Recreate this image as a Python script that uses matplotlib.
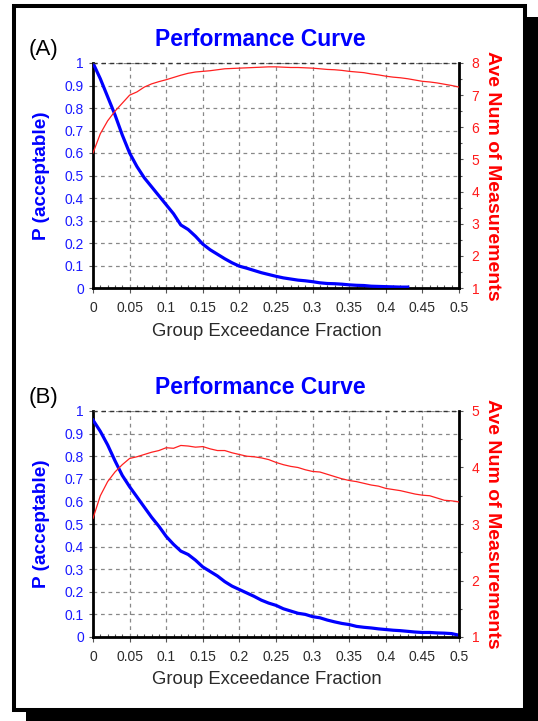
import numpy as np
import matplotlib
matplotlib.use("Agg")
import matplotlib.pyplot as plt
from matplotlib.patches import Rectangle
from matplotlib.ticker import MultipleLocator, FixedLocator

plt.rcParams['font.family'] = ['Liberation Sans', 'DejaVu Sans']

# ---------------- data ----------------
x_frac = [round(0.01 * i, 2) for i in range(51)]

p_accept_A = [1.0, 0.93, 0.85, 0.77, 0.68, 0.60, 0.54, 0.49, 0.45, 0.41,
              0.37, 0.33, 0.28, 0.26, 0.23, 0.195, 0.17, 0.15, 0.13, 0.112,
              0.097, 0.088, 0.078, 0.068, 0.06, 0.052, 0.045, 0.04, 0.035, 0.032,
              0.028, 0.023, 0.02, 0.019, 0.017, 0.014, 0.012, 0.011, 0.008, 0.007,
              0.006, 0.005, 0.004, 0.004]
ave_meas_A = [5.2, 5.8, 6.2, 6.5, 6.75, 7.0, 7.1, 7.25, 7.35, 7.42,
              7.48, 7.55, 7.62, 7.68, 7.72, 7.74, 7.76, 7.79, 7.82, 7.83,
              7.84, 7.85, 7.86, 7.87, 7.88, 7.88, 7.87, 7.86, 7.86, 7.85,
              7.84, 7.82, 7.80, 7.79, 7.77, 7.74, 7.72, 7.70, 7.66, 7.63,
              7.59, 7.56, 7.54, 7.51, 7.47, 7.43, 7.41, 7.38, 7.34, 7.30, 7.25]

p_accept_B = [0.96, 0.91, 0.85, 0.78, 0.715, 0.665, 0.62, 0.575, 0.53, 0.49,
              0.445, 0.41, 0.38, 0.365, 0.34, 0.31, 0.29, 0.27, 0.245, 0.225,
              0.21, 0.195, 0.18, 0.163, 0.15, 0.14, 0.125, 0.115, 0.105, 0.10,
              0.09, 0.085, 0.075, 0.067, 0.06, 0.055, 0.047, 0.043, 0.04, 0.036,
              0.033, 0.03, 0.028, 0.025, 0.022, 0.02, 0.02, 0.018, 0.017, 0.015, 0.008]
ave_meas_B = [3.1, 3.5, 3.75, 3.92, 4.05, 4.16, 4.19, 4.23, 4.27, 4.30,
              4.35, 4.34, 4.39, 4.38, 4.36, 4.37, 4.33, 4.30, 4.30, 4.26,
              4.23, 4.20, 4.19, 4.17, 4.14, 4.09, 4.05, 4.02, 4.00, 3.96,
              3.93, 3.92, 3.88, 3.84, 3.80, 3.77, 3.75, 3.72, 3.69, 3.67,
              3.63, 3.61, 3.59, 3.56, 3.53, 3.51, 3.50, 3.46, 3.42, 3.41, 3.39]

x_ticks = [0, 0.05, 0.1, 0.15, 0.2, 0.25, 0.3, 0.35, 0.4, 0.45, 0.5]
x_tick_labels = ['0', '0.05', '0.1', '0.15', '0.2', '0.25', '0.3', '0.35', '0.4', '0.45', '0.5']
p_ticks = [round(0.1 * i, 1) for i in range(11)]
p_tick_labels = ['0', '0.1', '0.2', '0.3', '0.4', '0.5', '0.6', '0.7', '0.8', '0.9', '1']
right_ticks_A = [1, 2, 3, 4, 5, 6, 7, 8]
right_ticks_B = [1, 2, 3, 4, 5]

panels = [
    dict(tag='(A)', p=p_accept_A, ave=ave_meas_A, rticks=right_ticks_A, top=63, bottom=288),
    dict(tag='(B)', p=p_accept_B, ave=ave_meas_B, rticks=right_ticks_B, top=411, bottom=637),
]

W, H = 538, 721
fig = plt.figure(figsize=(W / 100, H / 100), dpi=100)
fig.patch.set_facecolor('white')

def fx(px):
    return px / W

def fy(py):
    return 1 - py / H

# frame with drop shadow
fig.patches.append(Rectangle((fx(26), fy(730)), fx(540) - fx(26), (730 - 17) / H,
                             transform=fig.transFigure, facecolor='black',
                             edgecolor='none', zorder=-10))
fig.patches.append(Rectangle((fx(14), fy(710)), fx(525) - fx(14), (710 - 6) / H,
                             transform=fig.transFigure, facecolor='white',
                             edgecolor='black', linewidth=2.9, zorder=-9))

BLUE = '#1a1aff'
RED = '#ff1a1a'
GRAY = '#2a2a2a'

L, R = 93, 459
for pn in panels:
    top, bot = pn['top'], pn['bottom']
    ax = fig.add_axes([fx(L), fy(bot), fx(R) - fx(L), (bot - top) / H])
    ax.set_facecolor('white')
    n = len(pn['p'])
    ax.plot(x_frac[:n], pn['p'], color='#0000ff', lw=2.3, zorder=4, solid_joinstyle='round')
    ax.set_xlim(0, 0.5)
    ax.set_ylim(0, 1)
    ax.xaxis.set_major_locator(FixedLocator(x_ticks))
    ax.set_xticklabels(x_tick_labels)
    ax.xaxis.set_minor_locator(MultipleLocator(0.01))
    ax.yaxis.set_major_locator(FixedLocator(p_ticks))
    ax.set_yticklabels(p_tick_labels)
    ax.grid(True, which='major', color='#888888', linestyle=(0, (3, 3)), linewidth=0.9)
    ax.tick_params(axis='x', which='major', direction='out', length=3.5, width=0.8,
                   color='#555555', labelsize=10, labelcolor=GRAY, pad=6)
    ax.tick_params(axis='x', which='minor', direction='in', length=2.5, width=0.8,
                   color='#555555')
    ax.tick_params(axis='y', which='major', direction='out', length=3, width=0.8,
                   color='#555555', labelsize=10, labelcolor=BLUE, pad=3.5)
    for s in ['left', 'bottom']:
        ax.spines[s].set_linewidth(2.0)
        ax.spines[s].set_color('black')
    ax.spines['top'].set_visible(False)
    ax.spines['right'].set_visible(False)
    ax.set_axisbelow(True)

    ax2 = ax.twinx()
    ax2.plot(x_frac, pn['ave'], color='#ff2020', lw=0.9, zorder=3)
    ax2.set_ylim(pn['rticks'][0], pn['rticks'][-1])
    ax2.yaxis.set_major_locator(FixedLocator(pn['rticks']))
    ax2.yaxis.set_minor_locator(MultipleLocator(0.5))
    ax2.tick_params(axis='y', which='major', direction='out', length=3, width=0.8,
                    color='#555555', labelsize=10, labelcolor=RED, pad=6)
    ax2.tick_params(axis='y', which='minor', direction='out', length=2.5, width=0.8,
                    color='#555555')
    ax2.spines['right'].set_linewidth(2.0)
    ax2.spines['right'].set_color('black')
    for s in ['left', 'bottom', 'top']:
        ax2.spines[s].set_visible(False)
    # top border dashed (drawn over)
    ax.plot([0, 0.5], [1, 1], color='#333333', lw=1.0, linestyle=(0, (3, 3)),
            clip_on=False, zorder=5)

    fig.text(fx(260), fy(top - 23), 'Performance Curve', color='#0000ff',
             fontsize=16.5, fontweight='bold', ha='center', va='center')
    fig.text(fx(43), fy(top - 14), pn['tag'], color='black', fontsize=16,
             ha='center', va='center')
    fig.text(fx(42), fy((top + bot) / 2), 'P (acceptable)', color='#0000ff',
             fontsize=13.7, fontweight='bold', rotation=90, ha='center', va='center')
    fig.text(fx(493), fy((top + bot) / 2), 'Ave Num of Measurements', color='#ff0000',
             fontsize=14, fontweight='bold', rotation=270, ha='center', va='center')
    fig.text(fx(267), fy(bot + 43), 'Group Exceedance Fraction', color=GRAY,
             fontsize=13.3, ha='center', va='center')

fig.savefig('out.png', dpi=100, facecolor='white')
